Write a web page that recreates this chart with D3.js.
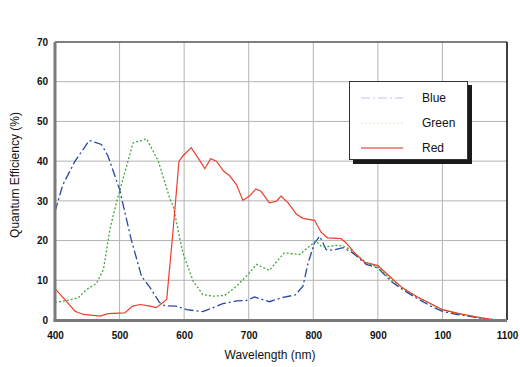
<!DOCTYPE html>
<html><head><meta charset="utf-8">
<script src="https://cdn.jsdelivr.net/npm/d3@7"></script>
<style>body{margin:0;background:#fff}svg{display:block}text{font-family:"Liberation Sans",Arial,sans-serif}</style>
</head><body><div id="chart"></div>
<script>
const xTicks = [400,500,600,700,800,900,1000,1100];
const xTickLabels = ["400","500","600","700","800","900","100","1100"];
const yTicks = [0,10,20,30,40,50,60,70];
const seriesNames = ["Blue","Green","Red"];

const blueNm = [400,412,431,453,472,482,500,518,534,547,562,570,588,604,629,660,681,696,709,732,753,772,784,792,802,810,820,830,846,861,882,900,920,938,959,982,1000,1021,1047,1067,1088,1100];
const blueQE = [27.3,34,40,45.2,44.2,41.3,32.9,20.3,11,8.2,4.4,3.6,3.5,2.6,2.1,4.1,4.8,4.9,5.8,4.6,5.7,6.3,8.5,14.4,19.4,21.1,17.7,17.6,18.2,16.9,14,13.1,9.8,7.7,5.6,3.5,2.2,1.4,0.8,0.1,0,0];

const greenNm = [400,421,436,449,464,475,485,495,508,521,542,560,578,583,598,614,629,645,663,681,699,712,732,755,779,804,812,820,835,846,856,882,900,920,938,959,982,1000,1021,1047,1067,1088,1100];
const greenQE = [4.4,5,5.6,7.7,9.2,12.7,22.8,29.5,37.1,44.6,45.6,40,30.5,28.7,16.9,9.8,6.4,6,6.2,8.5,11.5,14,12.5,16.9,16.5,19.9,18.6,18.4,18.8,18.6,17.9,14.4,13.3,10.2,8.1,6,4,2.6,1.7,0.9,0.3,0,0];

const redNm = [400,415,431,444,470,482,508,520,532,547,557,573,583,592,598,611,624,632,641,650,661,670,681,691,701,711,719,732,743,750,761,774,784,802,812,822,843,851,864,879,900,918,938,959,980,1000,1026,1052,1078,1098,1100];
const redQE = [7.9,5.2,2.2,1.4,1,1.6,1.8,3.5,3.9,3.5,3.1,5.2,22.8,40,41.3,43.4,40.2,38.1,40.6,40,37.5,36.4,34.1,30.1,31.2,33,32.4,29.5,29.9,31.2,29.5,26.6,25.6,25.1,22.1,20.7,20.5,19.4,16.9,14.6,13.7,11,8.1,6,4.3,2.6,1.6,0.8,0.1,0,0];

const W = 520, H = 367;
const m = {l:55, r:13, t:42, b:47};
const svg = d3.select("#chart").append("svg").attr("width", W).attr("height", H);
const x = d3.scaleLinear().domain([400,1100]).range([m.l, W - m.r]);
const y = d3.scaleLinear().domain([0,70]).range([H - m.b, m.t]);

// grid
svg.append("g").selectAll("line").data(xTicks.slice(1,-1)).join("line")
  .attr("x1", d=>x(d)).attr("x2", d=>x(d)).attr("y1", y(0)).attr("y2", y(70))
  .attr("stroke", "#b4b4b4").attr("stroke-width", 1);
svg.append("g").selectAll("line").data(yTicks.slice(1,-1)).join("line")
  .attr("x1", x(400)).attr("x2", x(1100)).attr("y1", d=>y(d)).attr("y2", d=>y(d))
  .attr("stroke", "#b4b4b4").attr("stroke-width", 1);

// frame
svg.append("line").attr("x1", x(400)).attr("x2", x(1100)).attr("y1", y(70)).attr("y2", y(70)).attr("stroke", "#555").attr("stroke-width", 1.5);
svg.append("line").attr("x1", x(1100)).attr("x2", x(1100)).attr("y1", y(70)).attr("y2", y(0)).attr("stroke", "#000").attr("stroke-width", 1.5);

// series
const styles = {
  Blue: {c:"#2848a0", dash:"9,3,2,3", w:1.3},
  Green:{c:"#3ea83e", dash:"2,2", w:1.3},
  Red:  {c:"#f03c2c", dash:null, w:1.2}
};
const data = {Blue: d3.zip(blueNm, blueQE), Green: d3.zip(greenNm, greenQE), Red: d3.zip(redNm, redQE)};
const line = d3.line().x(d=>x(d[0])).y(d=>y(d[1]));
seriesNames.forEach(n=>{
  svg.append("path").datum(data[n]).attr("d", line).attr("fill","none")
    .attr("stroke", styles[n].c).attr("stroke-width", styles[n].w)
    .attr("stroke-dasharray", styles[n].dash);
});

// axes (thick gray)
svg.append("line").attr("x1", x(400)).attr("x2", x(400)).attr("y1", y(70)).attr("y2", y(0)+1.5).attr("stroke", "#7a7a7a").attr("stroke-width", 3);
svg.append("line").attr("x1", x(400)-1.5).attr("x2", x(1100)).attr("y1", y(0)+0.5).attr("y2", y(0)+0.5).attr("stroke", "#7a7a7a").attr("stroke-width", 3);

const xa = d3.axisBottom(x).tickValues(xTicks).tickFormat((d,i)=>xTickLabels[i]).tickSize(0).tickPadding(8);
svg.append("g").attr("transform", `translate(0,${y(0)+4})`).call(xa)
  .call(g=>g.select(".domain").remove())
  .selectAll("text").attr("font-size", 10).attr("font-weight", "bold").attr("fill", "#111").attr("font-family","'Liberation Sans',Arial,sans-serif");
const ya = d3.axisLeft(y).tickValues(yTicks).tickSize(0).tickPadding(7);
svg.append("g").attr("transform", `translate(${x(400)},0)`).call(ya)
  .call(g=>g.select(".domain").remove())
  .selectAll("text").attr("font-size", 10).attr("font-weight", "bold").attr("fill", "#111").attr("font-family","'Liberation Sans',Arial,sans-serif");

svg.append("text").attr("x", 270).attr("y", 359).attr("text-anchor","middle").attr("font-size", 12).attr("fill","#111").text("Wavelength (nm)");
svg.append("text").attr("transform", "translate(19,175) rotate(-90)").attr("text-anchor","middle").attr("font-size", 12).attr("fill","#111").text("Quantum Efficiency (%)");

// legend
const lg = svg.append("g");
lg.append("rect").attr("x", 353).attr("y", 85).attr("width", 119).attr("height", 79).attr("fill", "#1a1a1a");
lg.append("rect").attr("x", 349.5).attr("y", 81.5).attr("width", 118).attr("height", 78).attr("fill", "#fff").attr("stroke", "#333").attr("stroke-width", 1);
const legStyles = {Blue:{c:"#c4c4ec", dash:"9,3,2,3"}, Green:{c:"#dfe6c4", dash:"2,2"}, Red:{c:"#e8201c", dash:null}};
seriesNames.forEach((n,i)=>{
  const yy = 98 + i*25;
  lg.append("line").attr("x1", 361).attr("x2", 403).attr("y1", yy).attr("y2", yy)
    .attr("stroke", legStyles[n].c).attr("stroke-width", 1.2).attr("stroke-dasharray", legStyles[n].dash);
  lg.append("text").attr("x", 422).attr("y", yy+4).attr("font-size", 12).attr("fill","#111").text(n);
});
</script></body></html>
